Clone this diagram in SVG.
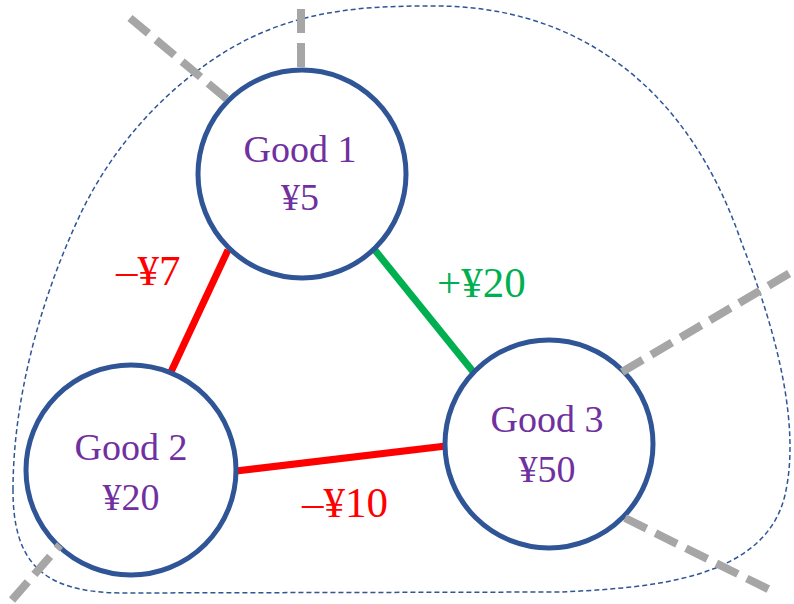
<svg xmlns="http://www.w3.org/2000/svg" width="794" height="604" viewBox="0 0 794 604">
<style>
.node{fill:#FFFFFF;stroke:#2F5597;stroke-width:5}
.nt{font-family:"Liberation Serif","Times New Roman",serif;font-size:38px;fill:#7030A0;text-anchor:middle}
.lbl{font-family:"Liberation Serif","Times New Roman",serif;font-size:43px}
.cut{stroke:#A6A6A6;stroke-width:8;stroke-dasharray:24 10;fill:none}
.edge{stroke-width:7;fill:none}
</style>
<rect width="794" height="604" fill="#FFFFFF"/>
<g id="boundary">
<path d="M13 490 C13 400 40 300 80 215 C105 162 150 100 220 55 C290 10 360 6 430 6 C580 4 690 90 742 244 C780 340 800 430 785 495 C765 580 650 588 560 592 L120 593 C40 592 13 560 13 490 Z" fill="none" stroke="#2F5597" stroke-width="1.5" stroke-dasharray="5 3"/>
</g>
<g id="connectors">
<line class="edge" x1="228" y1="250" x2="170" y2="374" stroke="#FF0000"/>
<line class="edge" x1="374" y1="249" x2="475" y2="374" stroke="#00B050"/>
<line class="edge" x1="236" y1="471" x2="446" y2="446" stroke="#FF0000"/>
</g>
<g id="node1">
<circle class="node" cx="302" cy="174" r="104"/>
<text class="nt" x="300" y="162">Good 1</text>
<text class="nt" x="300" y="210">¥5</text>
</g>
<g id="node2">
<circle class="node" cx="131" cy="470" r="105"/>
<text class="nt" x="131" y="460">Good 2</text>
<text class="nt" x="131" y="510">¥20</text>
</g>
<g id="node3">
<circle class="node" cx="549" cy="444" r="104"/>
<text class="nt" x="547" y="432">Good 3</text>
<text class="nt" x="547" y="482">¥50</text>
</g>
<g id="cuts">
<line class="cut" x1="130" y1="18" x2="228" y2="100"/>
<line class="cut" x1="301" y1="9" x2="301" y2="71"/>
<line class="cut" x1="622" y1="372" x2="790" y2="273"/>
<line class="cut" x1="625" y1="518" x2="770" y2="590"/>
<line class="cut" x1="12" y1="600" x2="60" y2="545"/>
</g>
<g id="labels">
<text class="lbl" x="116" y="285" fill="#FF0000">–¥7</text>
<text class="lbl" x="437" y="297" fill="#00B050">+¥20</text>
<text class="lbl" x="302" y="517" fill="#FF0000">–¥10</text>
</g>
</svg>
